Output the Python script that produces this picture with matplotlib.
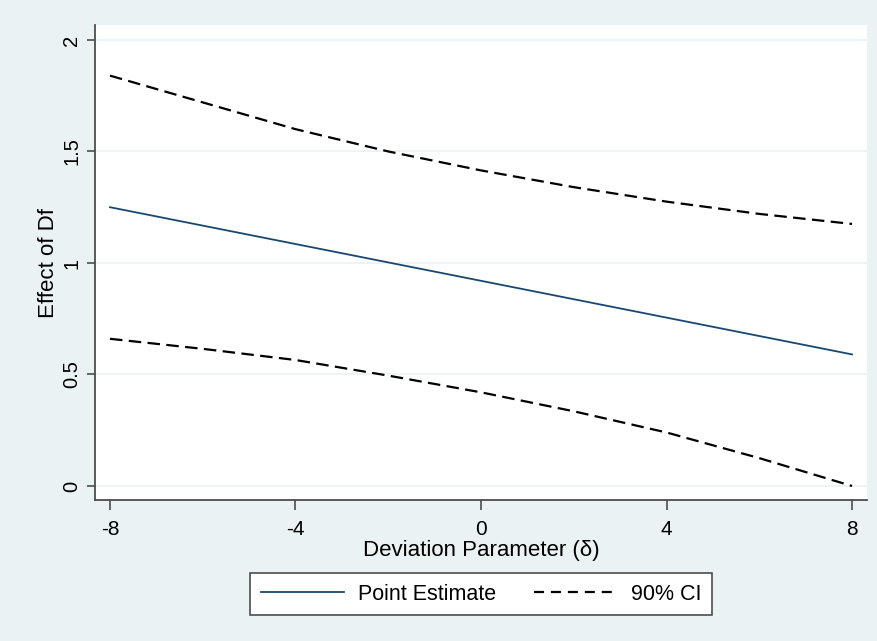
import matplotlib
matplotlib.use("Agg")
import matplotlib.pyplot as plt

# deviation parameter grid and estimates
delta = [-8, -6, -4, -2, 0, 2, 4, 6, 8]
point_est = [1.25, 1.1675, 1.085, 1.0025, 0.92, 0.8375, 0.755, 0.6725, 0.59]
ci_upper = [1.84, 1.72, 1.60, 1.50, 1.415, 1.34, 1.275, 1.22, 1.175]
ci_lower = [0.66, 0.615, 0.565, 0.495, 0.42, 0.335, 0.24, 0.125, 0.0]

x_ticks = [-8, -4, 0, 4, 8]
y_ticks = [0, 0.5, 1, 1.5, 2]
y_tick_labels = ["0", "0.5", "1", "1.5", "2"]

BG = "#eaf2f3"
NAVY = "#1a476f"
AXIS = "#4d4d4d"

plt.rcParams["font.family"] = ["Liberation Sans", "DejaVu Sans"]

fig = plt.figure(figsize=(8.77, 6.41), dpi=100, facecolor=BG)
ax = fig.add_axes([95 / 877, 1 - 500 / 641, 772 / 877, 475 / 641])
ax.set_facecolor("white")

lw_d = 1.6
ax.plot(delta, point_est, color=NAVY, linewidth=1.3, label="Point Estimate")
ax.plot(delta, ci_upper, color="black", linewidth=lw_d, dashes=(9.0 / lw_d, 4.6 / lw_d), label="90% CI")
ax.plot(delta, ci_lower, color="black", linewidth=lw_d, dashes=(9.0 / lw_d, 4.6 / lw_d))

ax.set_xlim(-8.323, 8.323)
ax.set_ylim(-0.0628, 2.067)
ax.set_xticks(x_ticks)
ax.set_xticklabels([str(v) for v in x_ticks])
ax.set_yticks(y_ticks)
ax.set_yticklabels(y_tick_labels, rotation=90, va="center")
ax.yaxis.grid(True, color=BG, linewidth=1.2)
ax.set_axisbelow(True)

for side in ("top", "right"):
    ax.spines[side].set_visible(False)
for side in ("left", "bottom"):
    ax.spines[side].set_color(AXIS)
    ax.spines[side].set_linewidth(1.3)
ax.tick_params(axis="x", colors=AXIS, labelcolor="black", length=7.2, width=1.2, labelsize=15, pad=7)
ax.tick_params(axis="y", colors=AXIS, labelcolor="black", length=6, width=1.2, labelsize=14.5, pad=4)

ax.set_xlabel("Deviation Parameter (δ)", fontsize=16, labelpad=1)
ax.set_ylabel("Effect of Df", fontsize=16, labelpad=2)

handles, labels = ax.get_legend_handles_labels()
leg = fig.legend(handles, labels, loc="center", bbox_to_anchor=(481 / 877, 1 - 594 / 641),
                 ncol=2, fontsize=15.5, frameon=True, fancybox=False, framealpha=1,
                 edgecolor=AXIS, handlelength=3.86, handletextpad=0.65, columnspacing=1.75,
                 borderpad=0.5)
leg.get_frame().set_linewidth(1.2)
leg.get_lines()[1].set_dashes((7.2 / lw_d, 5.0 / lw_d))

fig.savefig("out.png", dpi=100, facecolor=BG)
